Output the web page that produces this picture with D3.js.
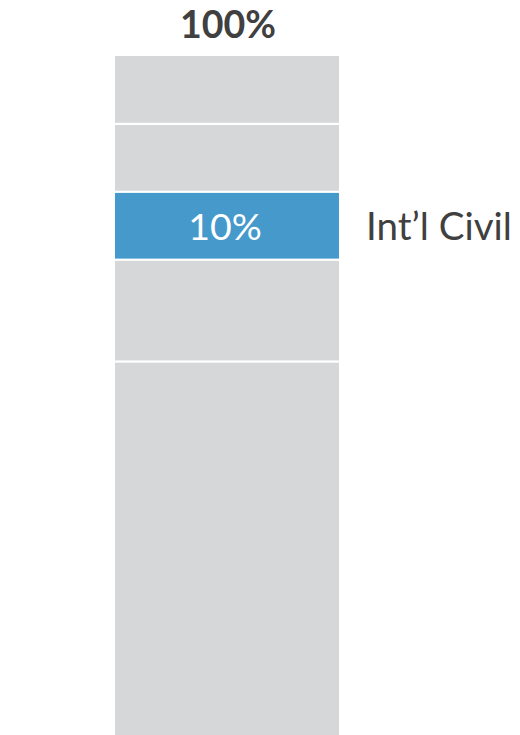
<!DOCTYPE html>
<html>
<head>
<meta charset="utf-8">
<script src="https://cdn.jsdelivr.net/npm/d3@7"></script>
<style>
html,body{margin:0;padding:0;background:#fff;}
svg{display:block;}
</style>
</head>
<body>
<script>
// Segments from top to bottom
const segments = ["Seg A", "Seg B", "Int'l Civil", "Seg D", "Seg E"];
const values = [10, 10, 10, 15, 55];
const highlight = ["Int'l Civil"];
const totalLabel = "100%";
const highlightLabel = "Int\u2019l Civil";

const W = 520, H = 735;
const svg = d3.select("body").append("svg").attr("width", W).attr("height", H);

const x = d3.scaleBand().domain(["bar"]).range([115, 339]).padding(0);
const y = d3.scaleLinear().domain([0, 100]).range([56, 735]);

// cumulative from top
let acc = 0;
const data = segments.map((s, i) => {
  const d = {name: s, value: values[i], y0: acc, y1: acc + values[i]};
  acc += values[i];
  return d;
});

const gap = 1.1;
svg.selectAll("rect.seg").data(data).enter().append("rect")
  .attr("class", "seg")
  .attr("x", x("bar"))
  .attr("width", x.bandwidth())
  .attr("y", (d, i) => y(d.y0) + (i === 0 ? 0 : gap))
  .attr("height", (d, i) => y(d.y1) - y(d.y0) - (i === 0 ? 0 : gap) - (i === data.length - 1 ? 0 : gap))
  .attr("fill", d => highlight.includes(d.name) ? "#4599cb" : "#d6d7d9");

const font = "Lato, 'Open Sans', sans-serif";

svg.append("text")
  .attr("x", x("bar") + x.bandwidth() / 2 + 1)
  .attr("y", 38)
  .attr("text-anchor", "middle")
  .attr("font-family", font)
  .attr("font-weight", "bold")
  .attr("font-size", 37.5)
  .attr("fill", "#404040")
  .text(totalLabel);

const hd = data.find(d => highlight.includes(d.name));
const midY = (y(hd.y0) + y(hd.y1)) / 2;

svg.append("text")
  .attr("x", x("bar") + x.bandwidth() / 2 - 2)
  .attr("y", midY + 14)
  .attr("text-anchor", "middle")
  .attr("font-family", font)
  .attr("font-size", 37.5)
  .attr("fill", "#ffffff")
  .text(hd.value + "%");

svg.append("text")
  .attr("x", 366)
  .attr("y", midY + 14)
  .attr("text-anchor", "start")
  .attr("font-family", font)
  .attr("font-size", 38.5)
  .attr("fill", "#404040")
  .text(highlightLabel);
</script>
</body>
</html>
